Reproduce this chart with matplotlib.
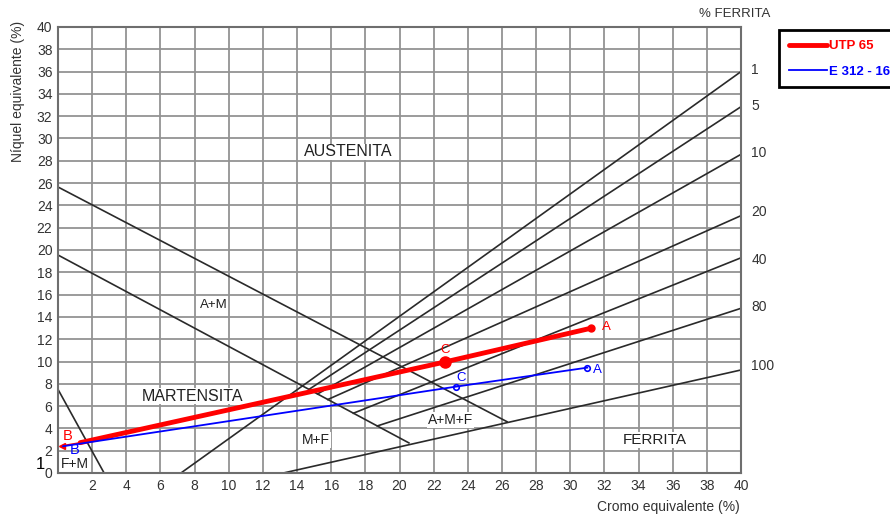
import numpy as np
import matplotlib
matplotlib.use("Agg")
import matplotlib.pyplot as plt

plt.rcParams['font.family'] = ['Liberation Sans', 'DejaVu Sans']

# boundary lines of the diagram (x = Cr eq, y = Ni eq)
am_x = [0, 26.3]
am_y = [25.65, 4.6]
m_x = [0, 20.55]
m_y = [19.55, 2.7]
fm_x = [0, 2.7]
fm_y = [7.5, 0]

# ferrite lines: start point, end at x = 40
fer_labels = ["1", "5", "10", "20", "40", "80", "100"]
fer_x0 = [7.2, 14.7, 15.2, 15.8, 17.3, 18.7, 13.2]
fer_y0 = [0.0, 7.50, 7.09, 6.59, 5.36, 4.22, 0.0]
fer_y1 = [36.0, 32.85, 28.58, 23.08, 19.3, 14.77, 9.24]
fer_lab_y = [36.1, 32.9, 28.7, 23.4, 19.1, 14.9, 9.6]

# welds  B -> C -> A
utp_x = [1.3, 22.64, 31.2]
utp_y = [2.72, 9.95, 12.98]
utp_tip = (0.25, 2.45)
e312_x = [0.3, 23.28, 31.0]
e312_y = [2.4, 7.74, 9.45]

regions = [("AUSTENITA", 17.0, 28.8, 11.5), ("A+M", 9.1, 15.1, 9.5),
           ("MARTENSITA", 7.85, 6.9, 11.5), ("M+F", 15.1, 2.95, 10),
           ("A+M+F", 23.0, 4.75, 10), ("FERRITA", 34.95, 2.95, 11),
           ("F+M", 1.0, 0.85, 10)]

fig = plt.figure(figsize=(8.9, 5.15), dpi=100)
ax = fig.add_axes([58/890, 1-473/515, 683/890, 446/515])
ax.set_xlim(0, 40)
ax.set_ylim(0, 40)
ax.set_xticks(np.arange(0, 41, 2))
ax.set_yticks(np.arange(0, 41, 2))
ax.set_xticklabels([""] + [str(v) for v in range(2, 41, 2)])
ax.tick_params(length=0, labelsize=10, colors='#333333', pad=4)
ax.grid(True, color='#939393', lw=1.3)
ax.set_axisbelow(True)
for s in ax.spines.values():
    s.set_color('#6e6e6e')
    s.set_linewidth(1.5)

lc = '#2a2a2a'
ax.plot(am_x, am_y, color=lc, lw=1.2)
ax.plot(m_x, m_y, color=lc, lw=1.2)
ax.plot(fm_x, fm_y, color=lc, lw=1.2)
for i in range(len(fer_labels)):
    ax.plot([fer_x0[i], 40], [fer_y0[i], fer_y1[i]], color=lc, lw=1.2)
    ax.text(40.6, fer_lab_y[i], fer_labels[i], fontsize=10, color='#333333',
            va='center', ha='left', clip_on=False)

for name, x, y, fs in regions:
    ax.text(x, y, name, fontsize=fs, color='#222222', ha='center', va='center',
            bbox=dict(facecolor='white', edgecolor='none', pad=0.5))

# UTP 65
ax.plot([utp_tip[0], utp_x[0]], [utp_tip[1], utp_y[0]], color='red', lw=1)
ax.plot(utp_tip[0], utp_tip[1], marker='<', color='red', ms=5)
l1, = ax.plot(utp_x, utp_y, color='red', lw=3.5, solid_capstyle='round', label='UTP 65')
ax.plot(utp_x[1], utp_y[1], 'o', color='red', ms=8)
ax.plot(utp_x[2], utp_y[2], 'o', color='red', ms=5)
# E 312 - 16
l2, = ax.plot(e312_x, e312_y, color='blue', lw=1.3, label='E 312 - 16')
ax.plot(e312_x[1:], e312_y[1:], 'o', mfc='none', mec='blue', ms=4, mew=1.2)

ax.text(0.55, 3.3, "B", color='red', fontsize=10.5, ha='center', va='center')
ax.text(1.0, 2.05, "B", color='blue', fontsize=10.5, ha='center', va='center')
ax.text(22.7, 11.0, "C", color='red', fontsize=9.5, ha='center', va='center')
ax.text(23.6, 8.5, "C", color='blue', fontsize=9.5, ha='center', va='center')
ax.text(32.1, 13.1, "A", color='red', fontsize=9.5, ha='center', va='center')
ax.text(31.6, 9.2, "A", color='blue', fontsize=9.5, ha='center', va='center')
ax.text(-1.05, 0.75, "1", fontsize=12, color='black', ha='center', va='center',
        clip_on=False)

fig.text(18/890, 1-91/515, "Níquel equivalente (%)", rotation=90, fontsize=10,
         color='#333333', ha='center', va='center')
fig.text(668/890, 1-507/515, "Cromo equivalente (%)", fontsize=10,
         color='#333333', ha='center', va='center')
fig.text(735/890, 1-14/515, "% FERRITA", fontsize=9.5, color='#333333',
         ha='center', va='center')

leg = fig.legend(handles=[l1, l2], loc='upper left',
                 bbox_to_anchor=(779/890, 1-30/515), fancybox=False,
                 framealpha=1, edgecolor='black', handlelength=2.9,
                 handletextpad=0.15, borderpad=0.75, labelspacing=1.0,
                 borderaxespad=0, prop={'weight': 'bold', 'size': 9.5},
                 labelcolor='linecolor')
leg.get_frame().set_linewidth(2)

fig.savefig("out.png", dpi=100)
